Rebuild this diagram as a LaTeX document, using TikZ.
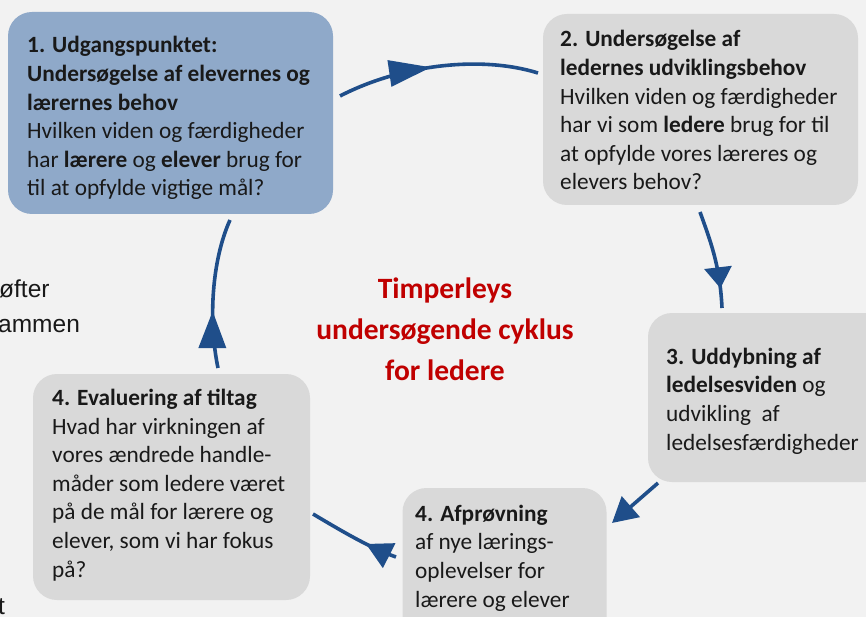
\documentclass[tikz,border=0pt]{standalone}
\usepackage{fontspec}
\setmainfont{Carlito}
\newfontfamily\strayfont{Liberation Sans}
\usetikzlibrary{arrows.meta,decorations.markings}
\definecolor{bgc}{RGB}{242,242,242}
\definecolor{bluebox}{RGB}{143,169,201}
\definecolor{greybox}{RGB}{217,217,217}
\definecolor{arrowblue}{RGB}{31,78,138}
\definecolor{titlered}{RGB}{192,0,0}
\definecolor{txt}{RGB}{25,25,25}
\tikzset{
  boxshape/.style={rectangle, rounded corners=24pt, draw=none, inner sep=0pt},
  bluecard/.style={boxshape, fill=bluebox},
  greycard/.style={boxshape, fill=greybox},
  % anchor base west = baseline of the LAST line of the block
  cardtext/.style={anchor=base west, align=left, inner sep=0pt, text=txt,
    font=\fontsize{23.3}{28.6}\selectfont},
  titletext/.style={anchor=base, align=center, inner sep=0pt, text=titlered,
    font=\fontsize{29.5}{41}\selectfont\bfseries},
  straytext/.style={anchor=base west, inner sep=0pt, text=txt,
    font=\fontsize{24.5}{34}\selectfont\strayfont},
  cycline/.style={draw=arrowblue, line width=3.6pt},
  headat/.style n args={3}{postaction={decorate}, decoration={markings,
    mark=at position #1 with {\arrow{Triangle[length=#2,width=#3]}}}},
}
\begin{document}
\begin{tikzpicture}[x=1pt,y=-1pt]
\useasboundingbox (0,0) rectangle (866,617);
\clip (0,0) rectangle (866,617);
\fill[bgc] (0,0) rectangle (866,617);

% stray text fragments at the left edge
\node[straytext] (s1) at (-1,298) {øfter};
\node[straytext] (s2) at (-2,332) {ammen};
\node[straytext] (s3) at (-2,614) {t};

% cards
\node[bluecard, minimum width=325pt, minimum height=202pt] (b1) at (170.5,113) {};
\node[greycard, minimum width=315pt, minimum height=191pt] (b2) at (700.5,109.5) {};
\node[greycard, minimum width=240pt, minimum height=169pt] (b3) at (768,397.5) {};
\node[greycard, minimum width=204pt, minimum height=160pt] (b4) at (504.5,568) {};
\node[greycard, minimum width=277pt, minimum height=226pt] (b5) at (171.5,487) {};

% card texts (y = baseline of last line)
\node[cardtext] (t1) at (27,196) {\textbf{1. Udgangspunktet:}\\\textbf{Undersøgelse af elevernes og}\\\textbf{lærernes behov}\\Hvilken viden og færdigheder\\har \textbf{lærere} og \textbf{elever} brug for\\til at opfylde vigtige mål?};
\node[cardtext] (t2) at (560,190) {\textbf{2. Undersøgelse af}\\\textbf{ledernes udviklingsbehov}\\Hvilken viden og færdigheder\\har vi som \textbf{ledere} brug for til\\at opfylde vores læreres og\\elevers behov?};
\node[cardtext] (t3) at (666,450) {\textbf{3. Uddybning af}\\\textbf{ledelsesviden} og\\udvikling\ \ af\\ledelsesfærdigheder};
\node[cardtext] (t4) at (415,607) {\textbf{4. Afprøvning}\\af nye lærings-\\oplevelser for\\lærere og elever};
\node[cardtext] (t5) at (52,577) {\textbf{4. Evaluering af tiltag}\\Hvad har virkningen af\\vores ændrede handle-\\måder som ledere været\\på de mål for lærere og\\elever, som vi har fokus\\på?};

% title
\node[titletext] (title) at (445,380) {Timperleys\\undersøgende cyklus\\for ledere};

% connector end points
\coordinate (a1s) at (340,96);
\coordinate (a1e) at (538,73);
\coordinate (a2s) at (700,212);
\coordinate (a2e) at (722,308);
\coordinate (a3s) at (658,483);
\coordinate (a3e) at (612,523);
\coordinate (a4s) at (396,557);
\coordinate (a4e) at (313,514);
\coordinate (a5s) at (218,368);
\coordinate (a5e) at (230,220);

% connectors
\draw[cycline, headat={0.47}{42pt}{26pt}] (a1s) .. controls (400,65) and (480,55) .. (a1e);
\draw[cycline, headat={0.8}{21pt}{27pt}] (a2s) .. controls (710,240) and (720,265) .. (a2e);
\draw[cycline, -{Triangle[length=25pt,width=27pt]}] (a3s) -- (a3e);
\draw[cycline, headat={0.35}{26pt}{27pt}] (a4s) .. controls (370,548) and (340,530) .. (a4e);
\draw[cycline, headat={0.38}{37pt}{27pt}] (a5s) .. controls (208,320) and (212,260) .. (a5e);
\end{tikzpicture}
\end{document}
